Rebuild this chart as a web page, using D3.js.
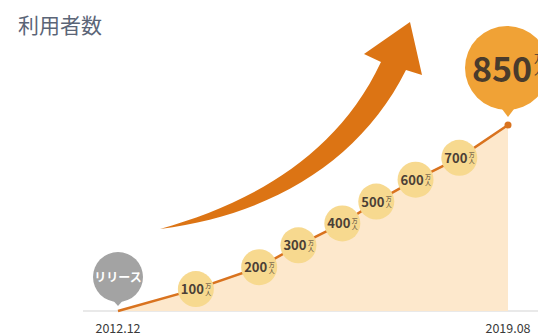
<!DOCTYPE html>
<html>
<head>
<meta charset="utf-8">
<script src="https://cdn.jsdelivr.net/npm/d3@7"></script>
<style>
body { margin: 0; background: #fff; }
text { font-family: "Noto Sans CJK JP", "Noto Sans", sans-serif; }
</style>
</head>
<body>
<script>
// Data: 利用者数 (万人)
var dates = ["2012-12", "2014-04", "2015-05", "2016-01", "2016-10", "2017-05", "2018-01", "2018-10", "2019-08"];
var users = [0, 100, 200, 300, 400, 500, 600, 700, 850];
var tickLabels = ["2012.12", "2019.08"];

var w = 538, h = 336;
var parse = d3.timeParse("%Y-%m");

var dataset = dates.map(function (d, i) {
	return { date: parse(d), value: users[i] };
});

var svg = d3.select("body").
append("svg").
attr("width", w).
attr("height", h);

// Title
svg.append("text").
attr("x", 18).
attr("y", 33).
text("利用者数").
style("font-size", "21px").
style("fill", "#5b6577");

// Scales
var xScale = d3.scaleTime().
domain([dataset[0].date, dataset[dataset.length - 1].date]).
range([118, 508]);

var yScale = d3.scaleLinear().
domain([0, 850]).
range([311, 125]);

// Baseline
svg.append("line").
attr("x1", 83).
attr("x2", w).
attr("y1", yScale(0)).
attr("y2", yScale(0)).
style("stroke", "#e2e2e2").
style("stroke-width", 1.5);

// Area under the line
var area = d3.area().
x(function (d) {return xScale(d.date);}).
y0(yScale(0)).
y1(function (d) {return yScale(d.value);});

svg.append("path").
datum(dataset).
attr("d", area).
style("fill", "#fde8cc");

// Big arrow
svg.append("path").
attr("d", "M160,229 C245,205 335,160 381,62 L364,54 L410,22 L422,75 L406,70 C360,162 270,215 160,229 Z").
style("fill", "#dc7414");

// Line
var line = d3.line().
x(function (d) {return xScale(d.date);}).
y(function (d) {return yScale(d.value);});

svg.append("path").
datum(dataset).
attr("d", line).
style("fill", "none").
style("stroke", "#d9731f").
style("stroke-width", 2.5);

// End dot
var last = dataset[dataset.length - 1];
svg.append("circle").
attr("cx", xScale(last.date)).
attr("cy", yScale(last.value)).
attr("r", 3.5).
style("fill", "#d9731f");

// Milestone bubbles
var mid = dataset.slice(1, dataset.length - 1);
var bubble = svg.selectAll(".bubble").
data(mid).
enter().
append("g").
attr("class", "bubble").
attr("transform", function (d) {return "translate(" + xScale(d.date) + "," + yScale(d.value) + ")";});

bubble.append("circle").
attr("r", 18).
style("fill", "#f7d98f");

bubble.append("text").
attr("x", -3.5).
attr("y", 5).
attr("text-anchor", "middle").
text(function (d) {return d.value;}).
style("font-size", "13px").
style("font-weight", "bold").
style("fill", "#4b4036");

// 万人 stacked vertically in one text
bubble.append("text").
attr("x", 12.5).
attr("y", -6).
text("万人").
style("writing-mode", "vertical-rl").
style("letter-spacing", "0.3px").
style("font-size", "6px").
style("fill", "#4b4036");

// Release bubble
var first = dataset[0];
var rx = xScale(first.date), ry = yScale(first.value);
var rel = svg.append("g").attr("transform", "translate(" + rx + "," + ry + ")");
rel.append("path").
attr("d", "M-8,-14 L8,-14 L0,-5 Z").
style("fill", "#a3a3a3");
rel.append("circle").
attr("cy", -34).
attr("r", 25).
style("fill", "#a3a3a3");
rel.append("text").
attr("y", -29).
attr("text-anchor", "middle").
text("リリース").
style("font-size", "12px").
style("font-weight", "bold").
style("fill", "#fff");

// Final bubble
var fx = xScale(last.date), fy = yScale(last.value);
var fin = svg.append("g").attr("transform", "translate(" + fx + "," + fy + ")");
fin.append("path").
attr("d", "M-9,-20 L9,-20 L0,-8 Z").
style("fill", "#f0a236");
fin.append("circle").
attr("cx", -1).
attr("cy", -57).
attr("r", 42).
style("fill", "#f0a236");
fin.append("text").
attr("x", -36).
attr("y", -43).
text(last.value).
style("font-size", "34px").
style("font-weight", "bold").
style("fill", "#4a3b2c");
fin.append("text").
attr("x", 31.5).
attr("y", -72).
text("万人").
style("writing-mode", "vertical-rl").
style("letter-spacing", "1px").
style("font-size", "11px").
style("fill", "#4a3b2c");

// Tick labels
svg.selectAll(".tick-label").
data([first, last]).
enter().
append("text").
attr("class", "tick-label").
attr("x", function (d) {return xScale(d.date);}).
attr("y", 333).
attr("text-anchor", "middle").
text(function (d, i) {return tickLabels[i];}).
style("font-size", "12.5px").
style("fill", "#3a3a3a");
</script>
</body>
</html>
